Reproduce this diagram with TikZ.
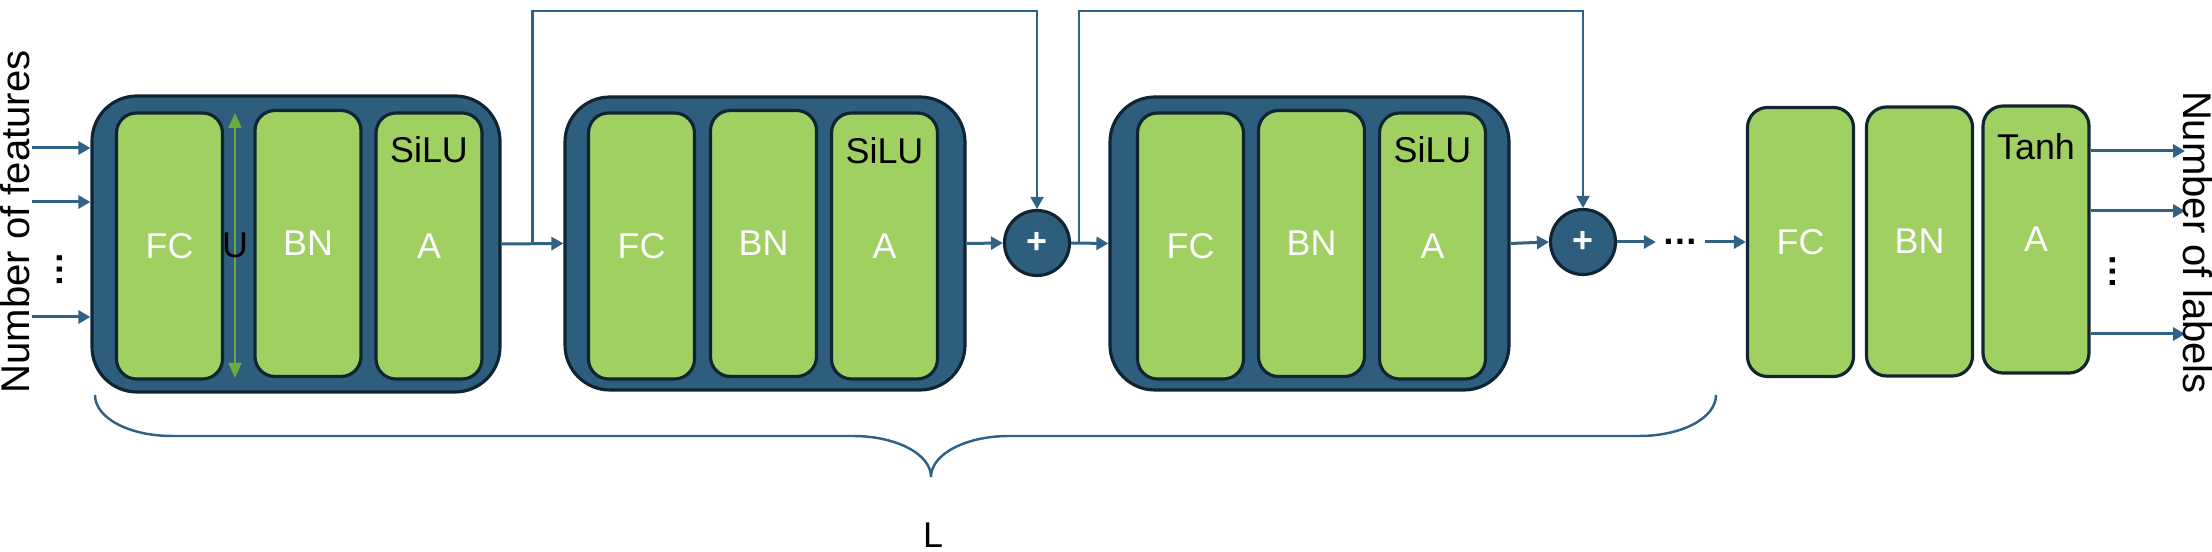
\documentclass[tikz,border=0pt]{standalone}
\usepackage{fontspec}
\setmainfont{Liberation Sans}
\usetikzlibrary{arrows.meta,calc}
\definecolor{blockblue}{RGB}{46,94,126}
\definecolor{edgedark}{RGB}{16,36,50}
\definecolor{layergreen}{RGB}{160,207,98}
\definecolor{linkblue}{RGB}{47,98,132}
\definecolor{ugreen}{RGB}{106,170,62}
\newcommand{\blockfont}{\fontsize{10.2pt}{12pt}\selectfont}
\newcommand{\sidefont}{\fontsize{11.4pt}{13pt}\selectfont}
\tikzset{>={Triangle[length=1.2mm,width=1.3mm]}}
\tikzset{
  stage/.style={draw=edgedark,fill=blockblue,line width=0.9pt,rounded corners=4.5mm,inner sep=0pt},
  layerbox/.style={draw=edgedark,fill=layergreen,line width=0.9pt,rounded corners=2mm,
    minimum width=10.6mm,minimum height=26.6mm,inner sep=0pt,text=white,font=\blockfont},
  addnode/.style={circle,draw=edgedark,fill=blockblue,line width=0.9pt,minimum size=6.5mm,
    inner sep=0pt,text=white,font=\blockfont\bfseries},
  actlabel/.style={text=black,font=\blockfont,inner sep=0pt},
  sidelabel/.style={text=black,font=\sidefont,inner sep=0pt},
  conn/.style={draw=linkblue,line width=0.85pt,->},
  skipline/.style={draw=linkblue,line width=0.6pt,->},
  uarrow/.style={draw=ugreen,line width=0.6pt,
    {Triangle[length=1.5mm,width=1.3mm]}-{Triangle[length=1.5mm,width=1.3mm]}},
  bracestyle/.style={draw=linkblue,line width=0.7pt}
}

\begin{document}
\begin{tikzpicture}[x=0.1mm,y=-0.1mm]
\useasboundingbox (0,0) rectangle (2212,552);

% first block
\node[stage,minimum width=40.8mm,minimum height=29.6mm] (blk1) at (296,244) {};
\node[layerbox] (fc1) at (169.5,246) {FC};
\node[layerbox] (bn1) at (308,243.5) {BN};
\node[layerbox] (a1) at (429,246) {A};
\node[actlabel] (silu1) at (429,150) {SiLU};
\coordinate (utop) at (235,113);
\coordinate (ubot) at (235,378);
\draw[uarrow] (ubot) -- (utop);
\node[actlabel] (u) at (235,245) {U};

% second block
\node[stage,minimum width=40mm,minimum height=29.3mm] (blk2) at (765,243.5) {};
\node[layerbox] (fc2) at (641.5,246) {FC};
\node[layerbox] (bn2) at (763.5,243.5) {BN};
\node[layerbox] (a2) at (884.5,246) {A};
\node[actlabel] (silu2) at (884.5,151) {SiLU};
\node[addnode] (add1) at (1037,243) {+};

% third block
\node[stage,minimum width=39.9mm,minimum height=29.3mm] (blk3) at (1309.5,243.5) {};
\node[layerbox] (fc3) at (1190.5,246) {FC};
\node[layerbox] (bn3) at (1311.5,243.5) {BN};
\node[layerbox] (a3) at (1432.5,246) {A};
\node[actlabel] (silu3) at (1432.5,150) {SiLU};
\node[addnode] (add2) at (1583,242) {+};

\node[actlabel,inner xsep=0.6mm] (hdots) at (1680.5,242) {\textbf{…}};

% output layer
\node[layerbox,minimum height=26.9mm] (fc4) at (1800.5,242) {FC};
\node[layerbox,minimum height=26.9mm] (bn4) at (1919.5,241.5) {BN};
\node[layerbox,minimum height=26.7mm] (a4) at (2036,239.5) {A};
\node[actlabel] (tanh) at (2036,147) {Tanh};

% main path
\draw[conn] (blk1.east) -- (blk2.west);
\coordinate (br1) at ($(blk1.east)!0.5!(blk2.west)$);
\draw[skipline] (br1) -- ++(0,-232.5) -| (add1.north);
\draw[conn] (blk2.east) -- (add1.west);
\draw[conn] (add1.east) -- (blk3.west);
\coordinate (br2) at ($(add1.east)!0.2!(blk3.west)$);
\draw[skipline] (br2) -- ++(0,-232) -| (add2.north);
\draw[conn] (blk3.east) -- (add2.west);
\draw[conn] (add2.east) -- (hdots.west);
\draw[conn] (hdots.east) -- (fc4.west);

% inputs
\coordinate (in1) at (32,148);
\coordinate (in2) at (32,202);
\coordinate (in3) at (32,317);
\draw[conn] (in1) -- (in1 -| blk1.west);
\draw[conn] (in2) -- (in2 -| blk1.west);
\draw[conn] (in3) -- (in3 -| blk1.west);
\node[actlabel,rotate=90] (vdots1) at (60,270) {\textbf{…}};
\node[sidelabel,rotate=90] (nfeat) at (15.5,222) {Number of features};

% outputs
\coordinate (out1) at (2185,151);
\coordinate (out2) at (2185,211);
\coordinate (out3) at (2185,334);
\draw[conn] (out1 -| a4.east) -- (out1);
\draw[conn] (out2 -| a4.east) -- (out2);
\draw[conn] (out3 -| a4.east) -- (out3);
\node[actlabel,rotate=90] (vdots2) at (2113,272) {\textbf{…}};
\node[sidelabel,rotate=-90] (nlab) at (2197.5,242.5) {Number of labels};

% brace
\coordinate (bl) at (95,395);
\coordinate (br) at (1716,395);
\coordinate (btip) at (931,477);
\draw[bracestyle] (bl) .. controls (95,418) and (129,436) .. (172,436) -- (853,436)
  .. controls (896,436) and (931,454) .. (btip)
  .. controls (931,454) and (966,436) .. (1009,436) -- (1639,436)
  .. controls (1682,436) and (1716,418) .. (br);
\node[actlabel] (lcount) at (933,535) {L};

\end{tikzpicture}
\end{document}
